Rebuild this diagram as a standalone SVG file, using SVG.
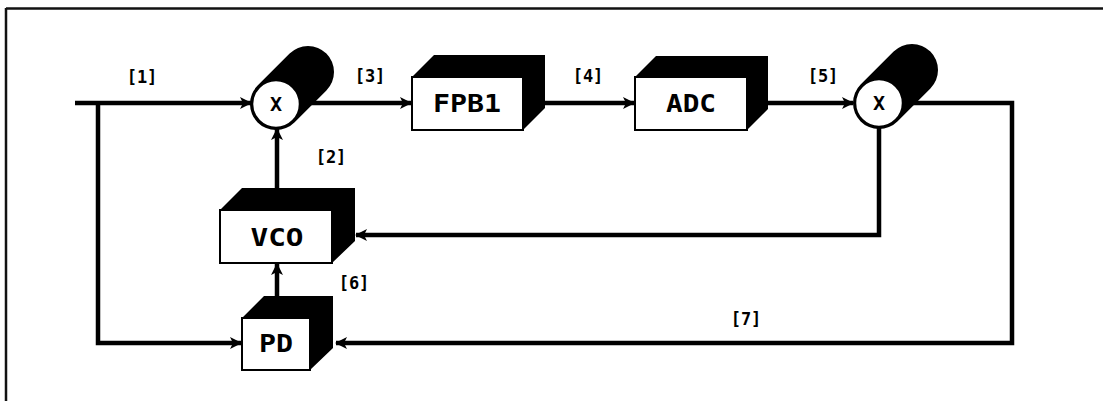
<svg xmlns="http://www.w3.org/2000/svg" width="1103" height="401" viewBox="0 0 1103 401">
<style>
.frame{stroke:#111;stroke-width:2.5;fill:none}
.face{fill:#fff;stroke:#000;stroke-width:2}
.shadow{fill:#000}
.blob{stroke:#000;stroke-width:52;stroke-linecap:round;fill:none}
.ring{fill:#fff;stroke:#000;stroke-width:2.5}
.name{font-family:"DejaVu Sans Mono","Liberation Mono",monospace;font-weight:bold;font-size:24px;fill:#000;text-anchor:middle}
.lbl{font-family:"DejaVu Sans Mono","Liberation Mono",monospace;font-weight:bold;font-size:17px;fill:#000;text-anchor:middle}
.x{font-family:"DejaVu Sans Mono","Liberation Mono",monospace;font-weight:bold;font-size:20px;fill:#000;text-anchor:middle}
.wire{stroke:#000;stroke-width:4.5;fill:none;stroke-linejoin:miter}
.arr{marker-end:url(#ah)}
</style>
<defs>
<marker id="ah" markerUnits="userSpaceOnUse" markerWidth="12" markerHeight="12" refX="11" refY="6" orient="auto">
<path d="M0,0 L12,6 L0,12 L3,6 z" fill="#000"/>
</marker>
</defs>
<rect width="1103" height="401" fill="#fff"/>
<g id="frame">
<line class="frame" x1="6" y1="8.5" x2="1103" y2="8.5"/>
<line class="frame" x1="6" y1="8" x2="6" y2="401"/>
</g>
<g id="connectors">
<polyline class="wire arr" points="75,103 251,103"/>
<polyline class="wire arr" points="98,103 98,343 241,343"/>
<polyline class="wire arr" points="300,103 411,103"/>
<polyline class="wire arr" points="545,103 634,103"/>
<polyline class="wire arr" points="768,103 853,103"/>
<polyline class="wire arr" points="904,103 1012,103 1012,343 336,343"/>
<polyline class="wire arr" points="879,128 879,235 356,235"/>
<polyline class="wire arr" points="277,188 277,129"/>
<polyline class="wire arr" points="277,296 277,264"/>
</g>
<g id="mixer1">
<line class="blob" x1="276" y1="104" x2="308" y2="72"/>
<circle class="ring" cx="276" cy="104" r="24"/>
<text class="x" x="276" y="111">X</text>
</g>
<g id="fpb1">
<polygon class="shadow" points="412,77 434,55 545,55 545,108 523,130 523,77"/>
<rect class="face" x="412" y="77" width="111" height="53"/>
<text class="name" x="467" y="112" textLength="68" lengthAdjust="spacingAndGlyphs">FPB1</text>
</g>
<g id="adc">
<polygon class="shadow" points="635,77 656,56 768,56 768,109 747,130 747,77"/>
<rect class="face" x="635" y="77" width="112" height="53"/>
<text class="name" x="691" y="112" textLength="50" lengthAdjust="spacingAndGlyphs">ADC</text>
</g>
<g id="mixer2">
<line class="blob" x1="879" y1="103" x2="912" y2="70"/>
<circle class="ring" cx="879" cy="103" r="24"/>
<text class="x" x="879" y="110">X</text>
</g>
<g id="vco">
<polygon class="shadow" points="220,210 242,188 355,188 355,241 332,263 332,210"/>
<rect class="face" x="220" y="210" width="112" height="53"/>
<text class="name" x="277" y="246" textLength="53" lengthAdjust="spacingAndGlyphs">VCO</text>
</g>
<g id="pd">
<polygon class="shadow" points="242,318 264,296 333,296 333,348 310,370 310,318"/>
<rect class="face" x="242" y="318" width="68" height="52"/>
<text class="name" x="276" y="352" textLength="34" lengthAdjust="spacingAndGlyphs">PD</text>
</g>
<g id="labels">
<text class="lbl" x="142" y="83">[1]</text>
<text class="lbl" x="331" y="163">[2]</text>
<text class="lbl" x="370" y="82">[3]</text>
<text class="lbl" x="588" y="82">[4]</text>
<text class="lbl" x="823" y="82">[5]</text>
<text class="lbl" x="354" y="289">[6]</text>
<text class="lbl" x="746" y="325">[7]</text>
</g>
</svg>
